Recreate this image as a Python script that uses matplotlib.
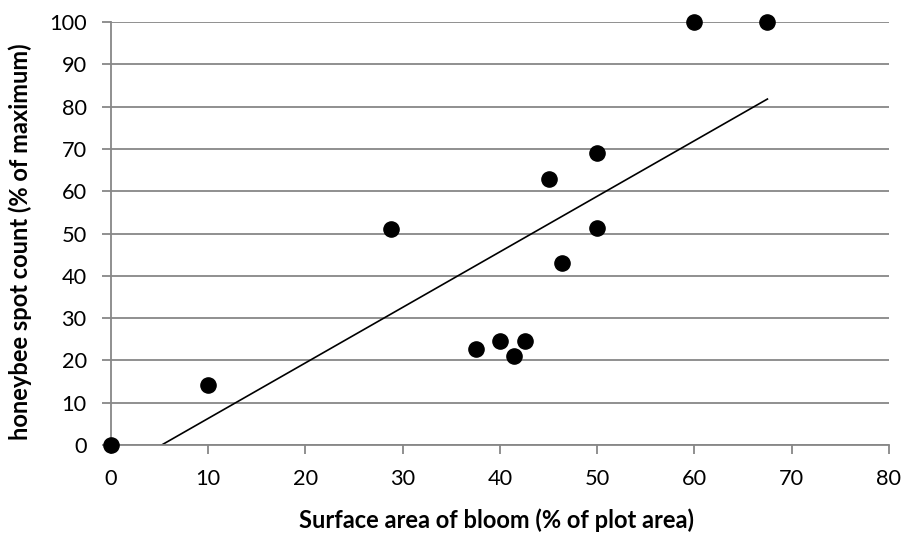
import numpy as np
import matplotlib
matplotlib.use("Agg")
import matplotlib.pyplot as plt

plt.rcParams['font.family'] = ['Lato', 'DejaVu Sans']

# bloom cover vs honeybee spot count
bloom_area = [0, 10, 28.8, 37.5, 40, 41.4, 42.6, 45, 46.4, 50, 50, 60, 67.5]
bee_count = [0, 14.3, 51.1, 22.6, 24.6, 21.0, 24.6, 63.0, 43.1, 69.0, 51.2, 100, 100]

# linear trendline as shown on the chart (y = a*x + b)
trend_slope = 1.313
trend_icpt = -6.84

x_ticks = list(range(0, 81, 10))
y_ticks = list(range(0, 101, 10))

grey = '#878787'

fig = plt.figure(figsize=(9.06, 5.33), dpi=100)
ax = fig.add_axes([0.1225, 0.1651, 0.8587, 0.7936])

ax.set_xlim(0, 80)
ax.set_ylim(0, 100)
ax.set_xticks(x_ticks)
ax.set_yticks(y_ticks)

ax.grid(axis='y', color=grey, linewidth=1.3, zorder=0)
ax.set_axisbelow(True)

# trendline spans the data x range, clipped at the axis floor
xs = np.array([min(bloom_area), max(bloom_area)])
ax.plot(xs, trend_slope * xs + trend_icpt, color='black', linewidth=1.2, zorder=2)

ax.scatter(bloom_area, bee_count, s=120, color='black', zorder=3, clip_on=False)

for side in ['top', 'right']:
    ax.spines[side].set_visible(False)
for side in ['left', 'bottom']:
    ax.spines[side].set_color(grey)
    ax.spines[side].set_linewidth(1.3)

ax.tick_params(axis='both', colors=grey, length=6.5, width=1.3, labelsize=15.7,
               labelcolor='black')
ax.tick_params(axis='x', pad=11)
ax.tick_params(axis='y', pad=11)

ax.set_xlabel('Surface area of bloom (% of plot area)', fontsize=17,
              fontweight='bold')
ax.set_ylabel('honeybee spot count (% of maximum)', fontsize=17,
              fontweight='bold')
ax.xaxis.set_label_coords(0.496, -0.149)
ax.yaxis.set_label_coords(-0.1015, 0.48)

fig.savefig('out.png', dpi=100)
